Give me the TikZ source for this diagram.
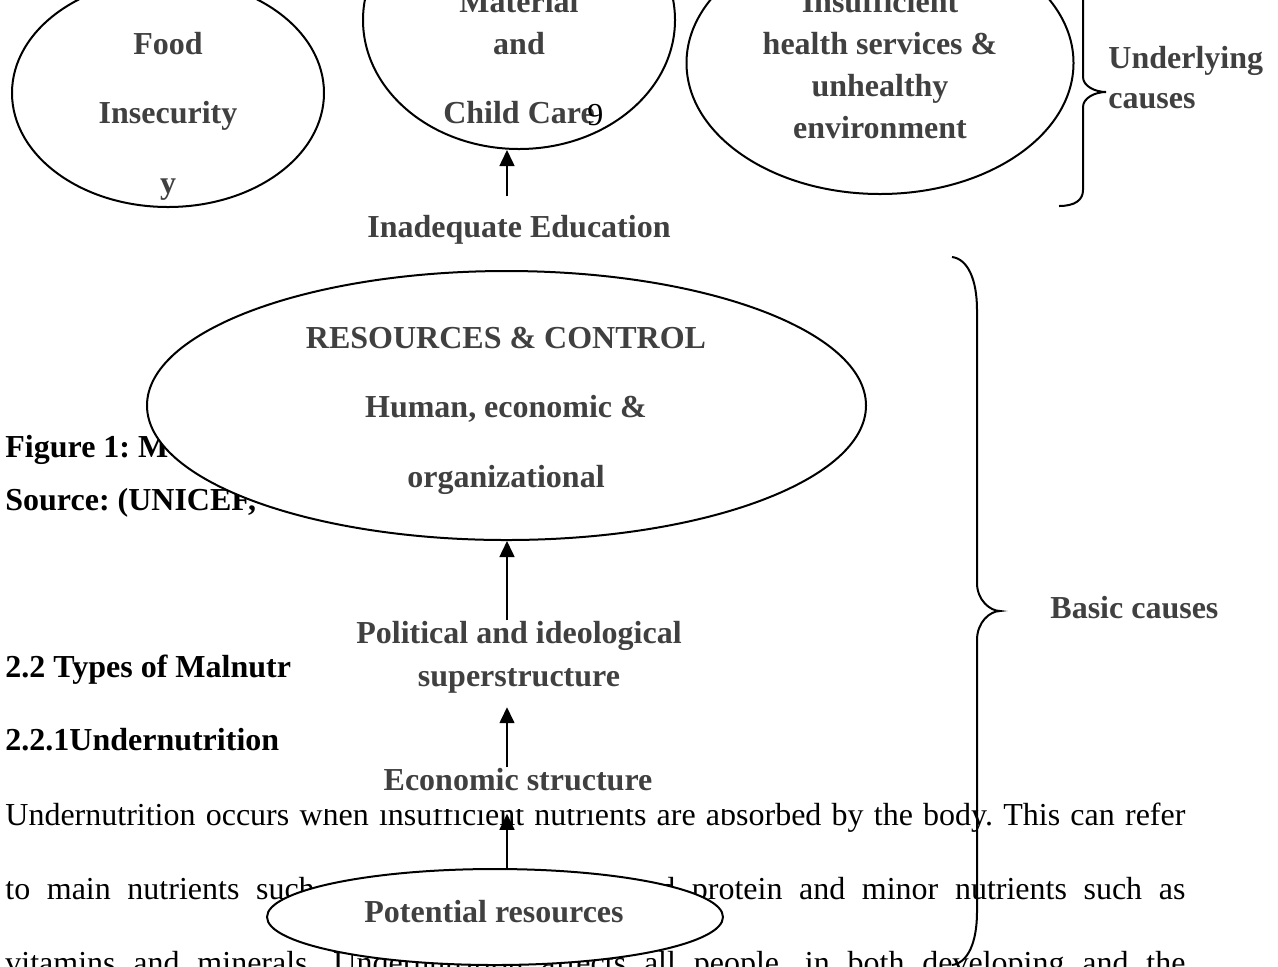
\documentclass[tikz,border=0pt]{standalone}
\usepackage{fontspec}
\setmainfont{Liberation Serif}
\usetikzlibrary{shapes.geometric,arrows.meta}
\definecolor{labgrey}{HTML}{404040}
\tikzset{oval/.style={ellipse, draw, fill=white, line width=1pt, inner sep=0pt},
  lab/.style={text=labgrey, font=\bfseries\fontsize{16}{21}\selectfont, align=center, inner sep=0pt, anchor=base},
  head/.style={font=\bfseries\fontsize{16}{21}\selectfont\frenchspacing, inner sep=0pt, anchor=base west},
  body/.style={font=\fontsize{16}{21}\selectfont\frenchspacing, inner sep=0pt, anchor=base west},
  up/.style={-{Triangle[width=7.5pt,length=8pt]}, line width=0.8pt},
  curly/.style={line width=1pt}}

\begin{document}
\begin{tikzpicture}[x=0.5pt, y=-0.5pt]
\useasboundingbox (0,0) rectangle (1278,966);
\clip (0,0) rectangle (1278,966);
\coordinate (spine) at (507,0);

% page text under the chart
\node[head] (fig) at (5,457) {Figure 1: M};
\node[head] (src) at (5,510) {Source: (UNICEF,};
\node[head] (sec) at (5,677) {2.2 Types of Malnutr};
\node[head] (subsec) at (5,750) {2.2.1Undernutrition};
\node[body] (par1) at (5,825) {\makebox[590pt][s]{Undernutrition occurs when insufficient nutrients are absorbed by the body. This can refer}};
\node[body] (par2) at (5,899) {\makebox[590pt][s]{to main nutrients such as carbohydrates, fat and protein and minor nutrients such as}};
\node[body] (par3) at (5,973) {\makebox[590pt][s]{vitamins and minerals. Undernutrition affects all people, in both developing and the}};

% underlying causes (multi-line labels sit on their last baseline)
\node[oval, minimum width=156pt, minimum height=114pt] (food) at (168,93) {};
\node[oval, minimum width=156pt, minimum height=129pt] (care) at (519,20) {};
\node[oval, minimum width=193.5pt, minimum height=131pt] (health) at (880,63) {};
\node[lab, font=\bfseries\fontsize{16}{34.75}\selectfont] (foodtxt) at (168,193) {Food\\Insecurity\\y};
\node[lab] (caretxt) at (519,123) {Material\\and\\[13.5pt]Child Care};
\node[lab] (healthtxt) at (880,138) {Insufficient\\health services \&\\unhealthy\\environment};
\node[lab, font=\bfseries\fontsize{16}{20}\selectfont, align=left, anchor=base west] (undtxt) at (1108,108) {Underlying\\causes};
\node[lab] (edu) at (519,237) {Inadequate Education};

% basic causes
\node[oval, minimum width=359.5pt, minimum height=134.5pt] (res) at (506.5,405.5) {};
\node[lab, font=\bfseries\fontsize{16}{34.75}\selectfont] (restxt) at (506,487) {RESOURCES \& CONTROL\\Human, economic \&\\organizational};
\node[lab, font=\bfseries\fontsize{16}{21.5}\selectfont] (pol) at (519,686) {Political and ideological\\superstructure};
\fill[white] (289,760) rectangle (739,809);
\node[lab] (econ) at (518,790) {Economic structure};
\node[oval, minimum width=228pt, minimum height=48pt] (pot) at (495,917) {};
\node[lab] (pottxt) at (494,922) {Potential resources};
\node[lab, anchor=base west] (basic) at (1050,618) {Basic causes};

\draw[up, shorten <=9pt] (edu.north -| spine) -- (care.south -| spine);
\draw[up] (pol.north -| spine) -- (res.south -| spine);
\draw[up, shorten >=7pt] (econ.north -| spine) -- (pol.south -| spine);
\draw[up, shorten >=11.5pt] (pot.north -| spine) -- (econ.south -| spine);

% braces
\draw[curly] (1059,-22) .. controls (1075,-22) and (1083,-12) .. (1083,-4) -- (1083,77)
  .. controls (1083,86) and (1095,92) .. (1106,92) .. controls (1095,92) and (1083,98) .. (1083,107)
  -- (1083,190) .. controls (1083,200) and (1075,206) .. (1059,206);
\draw[curly] (952,257) .. controls (968,259) and (977,280) .. (977,310) -- (977,583)
  .. controls (977,600) and (990,611) .. (1000,611) .. controls (990,611) and (977,622) .. (977,640)
  -- (977,912) .. controls (977,942) and (968,963) .. (952,965);

\node[body] (pageno) at (587,125) {9};
\end{tikzpicture}
\end{document}
